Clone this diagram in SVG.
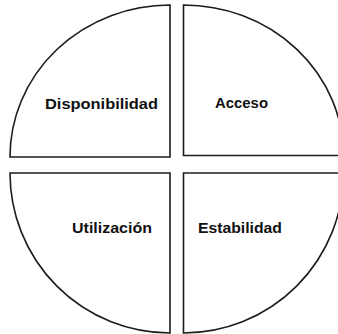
<svg xmlns="http://www.w3.org/2000/svg" width="338" height="334" viewBox="0 0 338 334">
<style>
.q{fill:#ffffff;stroke:#1c1c1c;stroke-width:1.6;stroke-linejoin:miter}
.t{font-family:"Liberation Sans",Arial,sans-serif;font-weight:bold;font-size:15px;fill:#111111}
</style>
<rect width="338" height="334" fill="#ffffff"/>
<g id="disponibilidad">
<path class="q" d="M170,5 L170,157 L10,157 A160,152 0 0 1 170,5 Z"/>
<text class="t" x="45" y="109" textLength="113" lengthAdjust="spacingAndGlyphs">Disponibilidad</text>
</g>
<g id="acceso">
<path class="q" d="M183.5,5 A160,150.5 0 0 1 343.5,155.5 L183.5,155.5 Z"/>
<text class="t" x="215" y="108" textLength="53" lengthAdjust="spacingAndGlyphs">Acceso</text>
</g>
<g id="utilizacion">
<path class="q" d="M10,173 L170,173 L170,333 A160,160 0 0 1 10,173 Z"/>
<text class="t" x="72" y="233" textLength="80" lengthAdjust="spacingAndGlyphs">Utilización</text>
</g>
<g id="estabilidad">
<path class="q" d="M183.5,173 L343.5,173 A160,160 0 0 1 183.5,333 Z"/>
<text class="t" x="198" y="233" textLength="84" lengthAdjust="spacingAndGlyphs">Estabilidad</text>
</g>
<g id="connectors"/>
</svg>
